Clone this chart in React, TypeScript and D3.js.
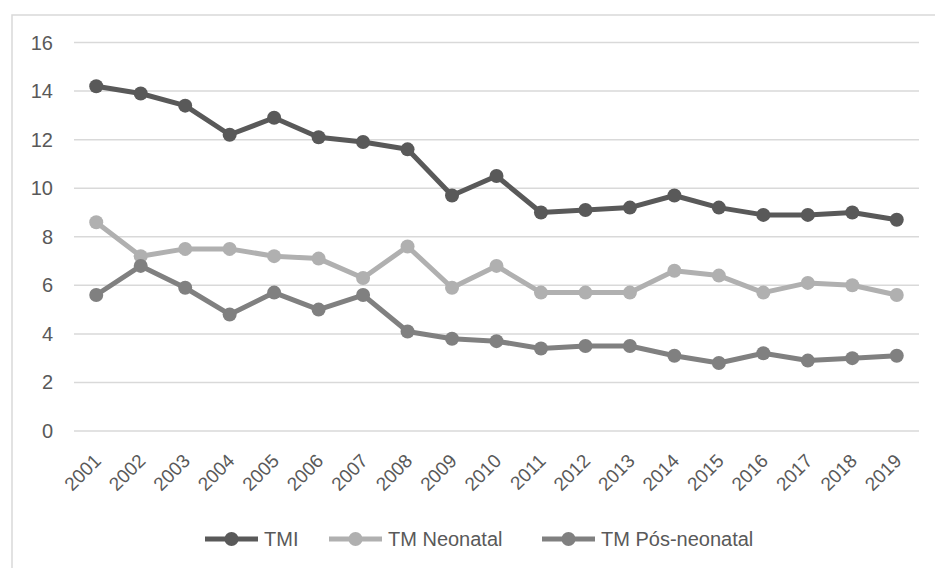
import React from "react";
import * as d3 from "d3";

const years = ["2001","2002","2003","2004","2005","2006","2007","2008","2009","2010","2011","2012","2013","2014","2015","2016","2017","2018","2019"];
const tmi = [14.2, 13.9, 13.4, 12.2, 12.9, 12.1, 11.9, 11.6, 9.7, 10.5, 9.0, 9.1, 9.2, 9.7, 9.2, 8.9, 8.9, 9.0, 8.7];
const tmNeonatal = [8.6, 7.2, 7.5, 7.5, 7.2, 7.1, 6.3, 7.6, 5.9, 6.8, 5.7, 5.7, 5.7, 6.6, 6.4, 5.7, 6.1, 6.0, 5.6];
const tmPosNeonatal = [5.6, 6.8, 5.9, 4.8, 5.7, 5.0, 5.6, 4.1, 3.8, 3.7, 3.4, 3.5, 3.5, 3.1, 2.8, 3.2, 2.9, 3.0, 3.1];
const yTicks = [0, 2, 4, 6, 8, 10, 12, 14, 16];
const seriesNames = ["TMI", "TM Neonatal", "TM Pós-neonatal"];

const W = 935, H = 568;
const FONT = "'Liberation Sans', Arial, sans-serif";
const TEXT = "#595959";

export default function App() {
  const x = d3.scaleBand<string>().domain(years).range([74, 919]).padding(0);
  const cx = (yr: string) => (x(yr) ?? 0) + x.bandwidth() / 2;
  const y = d3.scaleLinear().domain([0, 16]).range([431, 42.5]);

  const series = [
    { name: seriesNames[0], values: tmi, color: "#595959" },
    { name: seriesNames[1], values: tmNeonatal, color: "#b0b0b0" },
    { name: seriesNames[2], values: tmPosNeonatal, color: "#808080" },
  ];

  const line = d3.line<number>().x((_, i) => cx(years[i])).y((d) => y(d));

  const legendY = 539;
  const legendX = [205, 329, 542];

  return (
    <svg width={W} height={H} style={{ position: "absolute", left: 0, top: 0, background: "#fff" }} fontFamily={FONT}>
      <rect x={0} y={0} width={W} height={H} fill="#fff" />
      <rect x={12} y={15} width={W + 20} height={H + 20} fill="none" stroke="#d9d9d9" strokeWidth={1.5} />
      {yTicks.map((t) => (
        <g key={t}>
          <line x1={74} x2={919} y1={y(t)} y2={y(t)} stroke="#d9d9d9" strokeWidth={1.5} />
          <text x={53} y={y(t)} dy="0.35em" textAnchor="end" fontSize={20} fill={TEXT}>{t}</text>
        </g>
      ))}
      {years.map((yr) => (
        <text key={yr} transform={`translate(${cx(yr) + 6},${462}) rotate(-45)`} textAnchor="end" fontSize={19} fill={TEXT}>{yr}</text>
      ))}
      {series.map((s) => (
        <g key={s.name}>
          <path d={line(s.values) ?? ""} fill="none" stroke={s.color} strokeWidth={5} strokeLinejoin="round" />
          {s.values.map((v, i) => (
            <circle key={i} cx={cx(years[i])} cy={y(v)} r={7} fill={s.color} />
          ))}
        </g>
      ))}
      {series.map((s, i) => (
        <g key={s.name} transform={`translate(${legendX[i]},${legendY})`}>
          <line x1={0} x2={53} y1={0} y2={0} stroke={s.color} strokeWidth={5} />
          <circle cx={26.5} cy={0} r={7} fill={s.color} />
          <text x={59} y={0} dy="0.35em" fontSize={20} fill={TEXT}>{s.name}</text>
        </g>
      ))}
    </svg>
  );
}
